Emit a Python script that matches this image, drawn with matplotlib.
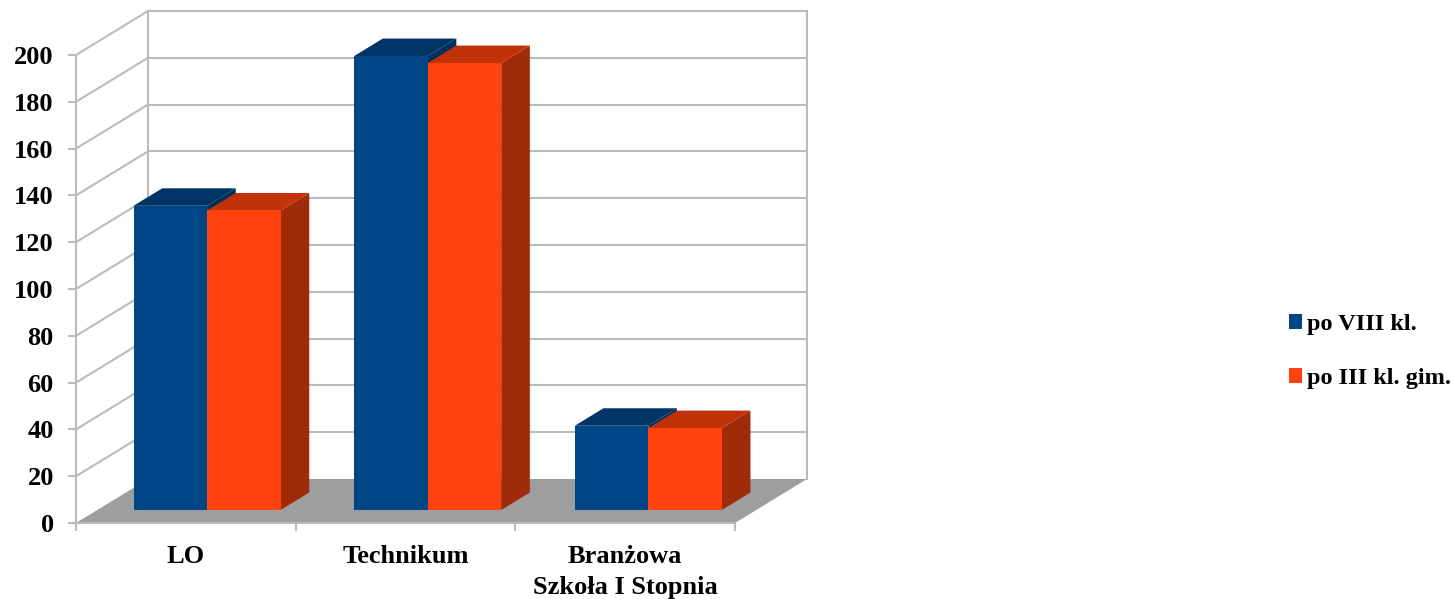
import matplotlib
matplotlib.use("Agg")
import matplotlib.pyplot as plt
from matplotlib.patches import Polygon, Patch

categories = ["LO", "Technikum", "Branżowa\nSzkoła I Stopnia"]
series_names = ["po VIII kl.", "po III kl. gim."]
po_viii = [130, 194, 36]
po_iii = [128, 191, 35]
y_ticks = list(range(0, 201, 20))

FRONT = ["#004586", "#ff420e"]
TOP = ["#003366", "#c23208"]
SIDE = ["#002f5c", "#a02b08"]
GRID = "#bbbbbb"
FLOOR = "#9e9e9e"
W, H = 1455, 599

plt.rcParams["font.family"] = ["Liberation Serif", "DejaVu Serif"]
plt.rcParams["font.weight"] = "bold"

fig = plt.figure(figsize=(W / 100, H / 100), dpi=100, facecolor="white")
L, R, T, B = 76, 735, 55, 523
ax = fig.add_axes([L / W, 1 - B / H, (R - L) / W, (B - T) / H])
ax.set_xlim(0, len(categories))
ax.set_ylim(0, 200)

ux = (R - L) / len(categories)   # pixels per category
uy = (B - T) / 200               # pixels per value unit
DX, DY = 72 / ux, 44 / uy        # full depth of the chart box


def depth(x, y, f):
    return x + DX * f, y + DY * f


lw = 1.5
n = len(categories)
# floor
ax.add_patch(Polygon([depth(0, 0, 0), depth(n, 0, 0), depth(n, 0, 1), depth(0, 0, 1)],
                     closed=True, fc=FLOOR, ec="none", zorder=1, clip_on=False))
# walls
for v in y_ticks:
    x0, y0 = depth(0, v, 1)
    x1, y1 = depth(n, v, 1)
    if v > 0:
        ax.plot([x0, x1], [y0, y1], color=GRID, lw=lw, zorder=0.5, clip_on=False)
        ax.plot([0, x0], [v, y0], color=GRID, lw=lw, zorder=0.5, clip_on=False)
for x in (0, n):
    x0, y0 = depth(x, 0, 1)
    x1, y1 = depth(x, 200, 1)
    ax.plot([x0, x1], [y0, y1], color=GRID, lw=lw, zorder=0.5, clip_on=False)

# bars
BAR_W = 73.5 / ux
STEP = 220.6 / ux
F0, F1 = 13 / 44, (13 + 17.5) / 44
z = 3
for i in range(n):
    for s, vals in enumerate([po_viii, po_iii]):
        x0 = 0.5 + i * STEP + (s - 1) * BAR_W
        x1 = x0 + BAR_W
        v = vals[i]
        a = depth(x0, 0, F0)
        b = depth(x1, 0, F0)
        c = depth(x1, v, F0)
        d = depth(x0, v, F0)
        ax.add_patch(Polygon([b, c, depth(x1, v, F1), depth(x1, 0, F1)], closed=True,
                             fc=SIDE[s], ec="none", zorder=z, clip_on=False))
        ax.add_patch(Polygon([d, c, depth(x1, v, F1), depth(x0, v, F1)], closed=True,
                             fc=TOP[s], ec="none", zorder=z + 0.1, clip_on=False))
        ax.add_patch(Polygon([a, b, c, d], closed=True,
                             fc=FRONT[s], ec="none", zorder=z + 0.2, clip_on=False))
        z += 1

for k in ("top", "right"):
    ax.spines[k].set_visible(False)
for k in ("left", "bottom"):
    ax.spines[k].set_color(GRID)
    ax.spines[k].set_linewidth(lw)
ax.patch.set_visible(False)
ax.set_yticks(y_ticks)
ax.set_xticks(range(n + 1))
ax.set_xticklabels([])
ax.tick_params(axis="y", length=6, width=lw, color=GRID, pad=10, labelsize=19)
ax.tick_params(axis="x", length=6, width=lw, color=GRID)
ax.set_xticks([i + 0.5 for i in range(n)], minor=True)
ax.set_xticklabels(categories, minor=True, fontsize=19, fontweight="bold", linespacing=1.44)
ax.tick_params(axis="x", which="minor", length=0, pad=16)

handles = [Patch(fc=c, ec="none") for c in FRONT]
fig.legend(handles, series_names, loc="center left",
           bbox_to_anchor=(1289 / W, 1 - 351.5 / H), frameon=False,
           prop={"family": "Liberation Serif", "weight": "bold", "size": 17.5},
           handlelength=0.54, handleheight=0.54, handletextpad=0.2,
           labelspacing=1.36, borderpad=0, borderaxespad=0)

fig.savefig("out.png", dpi=100)
